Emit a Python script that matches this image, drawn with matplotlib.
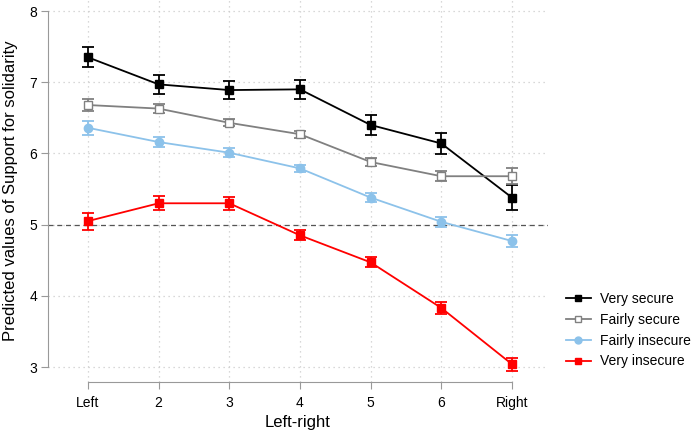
import matplotlib
matplotlib.use("Agg")
import matplotlib.pyplot as plt
from matplotlib.lines import Line2D
import numpy as np

plt.rcParams["font.family"] = ["Liberation Sans", "DejaVu Sans"]

categories = ["Left", "2", "3", "4", "5", "6", "Right"]
series_names = ["Very secure", "Fairly secure", "Fairly insecure", "Very insecure"]
very_secure = [7.35, 6.97, 6.89, 6.90, 6.40, 6.14, 5.38]
very_secure_ci = [0.14, 0.13, 0.13, 0.13, 0.14, 0.15, 0.17]
fairly_secure = [6.68, 6.63, 6.43, 6.27, 5.88, 5.68, 5.68]
fairly_secure_ci = [0.08, 0.06, 0.05, 0.05, 0.06, 0.07, 0.11]
fairly_insecure = [6.36, 6.16, 6.01, 5.79, 5.38, 5.04, 4.77]
fairly_insecure_ci = [0.10, 0.07, 0.06, 0.05, 0.06, 0.07, 0.09]
very_insecure = [5.05, 5.30, 5.30, 4.85, 4.47, 3.83, 3.04]
very_insecure_ci = [0.12, 0.10, 0.09, 0.07, 0.07, 0.08, 0.09]
y_ticks = [3, 4, 5, 6, 7, 8]
ref_line = 5

fig = plt.figure(figsize=(6.93, 4.34), dpi=100)
ax = fig.add_axes([48/693, 1 - 382/434, 500/693, 382/434])

x = np.arange(1, len(categories) + 1)
styles = [
    dict(color="black", marker="s", mfc="black"),
    dict(color="#808080", marker="s", mfc="white"),
    dict(color="#8CC2EA", marker="o", mfc="#8CC2EA"),
    dict(color="#FF0000", marker="s", mfc="#FF0000"),
]
data = [(very_secure, very_secure_ci), (fairly_secure, fairly_secure_ci),
        (fairly_insecure, fairly_insecure_ci), (very_insecure, very_insecure_ci)]

handles = []
for name, (vals, ci), st in zip(series_names, data, styles):
    ax.errorbar(x, vals, yerr=ci, color=st["color"], marker=st["marker"],
                mfc=st["mfc"], mec=st["color"], ms=6, lw=1.3, elinewidth=1.3,
                capsize=4, capthick=1.3, zorder=3)
    handles.append(Line2D([], [], color=st["color"], marker=st["marker"],
                          mfc=st["mfc"], mec=st["color"], ms=5, lw=1.3, label=name))

ax.axhline(ref_line, color="#555555", lw=0.9, ls=(0, (4, 3)), zorder=2)

ax.set_xlim(0.434, 7.51)
ax.set_ylim(2.79, 8.155)
ax.set_xticks(x)
ax.set_xticklabels(categories)
ax.set_yticks(y_ticks)
ax.grid(True, color="#CCCCCC", ls=(0, (1, 3)), lw=0.9)
ax.set_axisbelow(True)

for s in ["top", "right"]:
    ax.spines[s].set_visible(False)
ax.spines["left"].set_bounds(3, 8)
ax.spines["bottom"].set_bounds(1, 7)
ax.spines["left"].set_color("#999999")
ax.spines["bottom"].set_color("#999999")
ax.tick_params(axis="both", colors="#999999", labelcolor="black", labelsize=10, length=5)
ax.tick_params(axis="y", pad=3)
ax.tick_params(axis="x", pad=5)

ax.set_xlabel("Left-right", fontsize=12, labelpad=4)
ax.set_ylabel("Predicted values of Support for solidarity", fontsize=12, labelpad=8)

ax.legend(handles=handles, loc="center left", bbox_to_anchor=(1.024, 0.136), frameon=False,
          fontsize=10, handlelength=1.8, handletextpad=0.7, labelspacing=0.5, borderaxespad=0)

fig.savefig("out.png", dpi=100)
